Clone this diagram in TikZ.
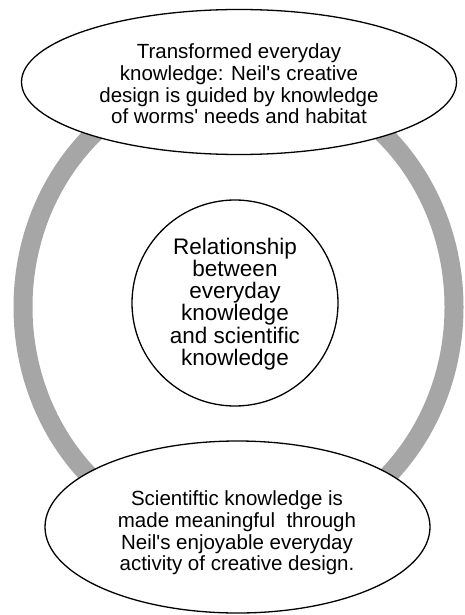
\documentclass[tikz,border=0pt]{standalone}
\usepackage{fontspec}
\setmainfont{Liberation Sans}
\usetikzlibrary{shapes.geometric}
\definecolor{ringgray}{HTML}{A6A6A6}
\newcommand{\apos}{\textquotesingle}
\begin{document}
\begin{tikzpicture}[x=1pt,y=-1pt,
  bubble/.style={ellipse, draw=black, line width=1.3pt, fill=white, inner sep=0pt},
  bodytext/.style={align=center, inner sep=0pt, font=\fontsize{20.5}{21.6}\selectfont},
  hubtext/.style={align=center, inner sep=0pt, font=\fontsize{22.5}{22.3}\selectfont}]
\useasboundingbox (0,0) rectangle (465,615);

% grey cycle linking the two bubbles
\draw[ringgray, line width=19pt] (238.5,307) ellipse [x radius=215.5, y radius=234];

% top bubble
\node[bubble, minimum width=435pt, minimum height=145pt] (top) at (239,82) {};
\node[bodytext] (toptext) at (239,84) {Transformed everyday\\knowledge: Neil\apos s creative\\design is guided by knowledge\\of worms\apos\ needs and habitat};

% central circle
\node[circle, draw=black, line width=1.3pt, fill=white, minimum size=206pt, inner sep=0pt] (hub) at (235,303) {};
\node[hubtext] (hubtxt) at (235,304) {Relationship\\between\\everyday\\knowledge\\and scientific\\knowledge};

% bottom bubble
\node[bubble, minimum width=385pt, minimum height=172pt] (bottom) at (237.5,527) {};
\node[bodytext] (bottomtext) at (237,533) {Scientiftic knowledge is\\made meaningful\ \ through\\Neil\apos s enjoyable everyday\\activity of creative design.};
\end{tikzpicture}
\end{document}
